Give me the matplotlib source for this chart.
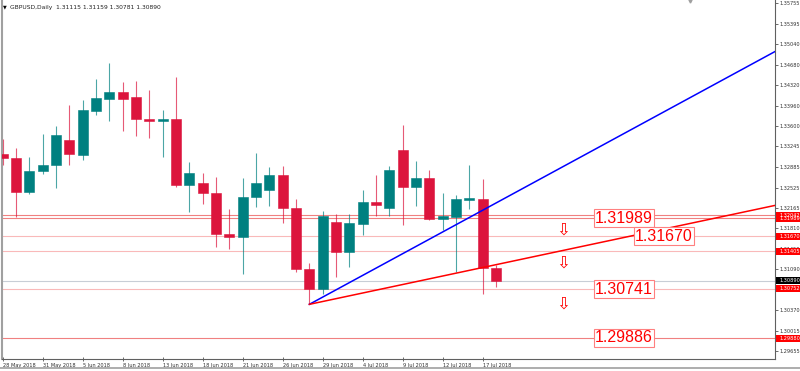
import numpy as np
import pandas as pd
import matplotlib
matplotlib.use("Agg")
import matplotlib.pyplot as plt
from matplotlib.patches import Rectangle
from matplotlib.transforms import blended_transform_factory

# GBPUSD daily candles, 28 May 2018 - 18 Jul 2018
dates = pd.bdate_range("2018-05-28", "2018-07-18")
opens = [1.33113, 1.33038, 1.32441, 1.32810, 1.32920, 1.33359, 1.33096, 1.33873, 1.34083, 1.34196,
         1.34108, 1.33727, 1.33692, 1.33727, 1.32575, 1.32605, 1.32424, 1.31710, 1.31662, 1.32354,
         1.32487, 1.32750, 1.32171, 1.31090, 1.30745, 1.31920, 1.31399, 1.31894, 1.32271, 1.32171,
         1.33175, 1.32540, 1.32692, 1.31978, 1.32008, 1.32312, 1.32324, 1.31115]
highs = [1.33371, 1.33213, 1.33061, 1.33469, 1.33605, 1.33973, 1.34066, 1.34429, 1.34710, 1.34376,
         1.34399, 1.34236, 1.33880, 1.34459, 1.32973, 1.32775, 1.32710, 1.32148, 1.32687, 1.33131,
         1.32885, 1.32903, 1.32324, 1.31206, 1.32119, 1.32066, 1.32061, 1.32482, 1.32745, 1.32903,
         1.33627, 1.32990, 1.32833, 1.32424, 1.32389, 1.32920, 1.32675, 1.31159]
lows = [1.32920, 1.32003, 1.32406, 1.32757, 1.32522, 1.32920, 1.33003, 1.33803, 1.33692, 1.33522,
        1.33429, 1.33399, 1.33061, 1.32540, 1.32090, 1.32241, 1.31487, 1.31447, 1.31008, 1.32189,
        1.32196, 1.31903, 1.31048, 1.30476, 1.30662, 1.30955, 1.31131, 1.31692, 1.32026, 1.32017,
        1.31876, 1.32206, 1.31955, 1.31780, 1.31038, 1.32148, 1.30666, 1.30781]
closes = [1.33038, 1.32441, 1.32810, 1.32915, 1.33452, 1.33119, 1.33880, 1.34096, 1.34201, 1.34078,
          1.33727, 1.33692, 1.33733, 1.32564, 1.32780, 1.32429, 1.31715, 1.31662, 1.32354, 1.32599,
          1.32750, 1.32171, 1.31090, 1.30745, 1.32031, 1.31399, 1.31897, 1.32271, 1.32213, 1.32838,
          1.32540, 1.32692, 1.31976, 1.32026, 1.32324, 1.32324, 1.31113, 1.30890]

price_ticks = [1.35755, 1.35395, 1.35040, 1.34680, 1.34320, 1.33960, 1.33600, 1.33245, 1.32885,
               1.32525, 1.32165, 1.31810, 1.31450, 1.31090, 1.30730, 1.30370, 1.30015, 1.29655]
hidden_ticks = [1.30730]  # covered by the 1.30752 tag

# horizontal levels and their axis tags
levels = [1.32042, 1.31989, 1.31670, 1.31405, 1.30752, 1.29880]
level_strong = [True, True, False, False, False, True]

# trend lines from the 28 Jun low
anchor_idx = 23
blue_slope = 0.00127
red_slope = 0.000497

# level boxes and arrows
box_texts = ["1.31989", "1.31670", "1.30741", "1.29886"]
box_x = [46.6, 49.6, 46.6, 46.6]
box_y = [1.31989, 1.31670, 1.30741, 1.29886]
arrow_x = 42.0
arrow_y = [1.31780, 1.31213, 1.30482]

bull = "#008080"
bear = "#DC143C"

W, H = 800, 371
fig = plt.figure(figsize=(8.0, 3.71), dpi=100)
ax = fig.add_axes([2 / W, 12 / H, 773 / W, 359 / H])

x = np.arange(len(dates))
px = 0.00017544  # price per pixel

# levels (behind candles)
for lv, strong in zip(levels, level_strong):
    ax.axhline(lv, color="#F08080" if strong else "#F9B9B9", lw=0.8, zorder=1)
ax.axhline(closes[-1], color="#C8CED6", lw=0.8, zorder=1)

for i in x:
    o, h, l, c = opens[i], highs[i], lows[i], closes[i]
    col = bull if c >= o else bear
    ax.plot([i, i], [l, h], color=col, lw=0.8, alpha=0.7, zorder=2, solid_capstyle="butt")
    bottom = min(o, c)
    height = max(abs(c - o), px * 1.2)
    ax.add_patch(Rectangle((i - 0.38, bottom), 0.76, height, facecolor=col,
                           edgecolor=col, lw=0.4, zorder=3))

xs = np.array([anchor_idx, 60])
ax.plot(xs, lows[anchor_idx] + blue_slope * (xs - anchor_idx), color="#0000FF", lw=1.1, zorder=4)
ax.plot(xs, lows[anchor_idx] + red_slope * (xs - anchor_idx), color="#FF0000", lw=1.1, zorder=4)

for t, bx, by in zip(box_texts, box_x, box_y):
    ax.text(bx, by, t, color="#FF0000", fontsize=11.5, family="Liberation Sans",
            ha="center", va="center", zorder=6,
            bbox=dict(boxstyle="square,pad=0.08", facecolor="white", edgecolor="#FF8080", lw=0.8))

for ay in arrow_y:
    ax.text(arrow_x, ay, "\u21e9", color="#FF0000", fontsize=12, family="DejaVu Sans",
            ha="center", va="center", zorder=6)

ax.set_xlim(-0.05, 57.92)
ax.set_ylim(1.29517, 1.35815)

# axes styling
ax.spines["top"].set_visible(False)
ax.spines["left"].set_color("#A0A0A0")
ax.spines["left"].set_linewidth(1.5)
ax.spines["right"].set_color("#606060")
ax.spines["right"].set_linewidth(0.8)
ax.spines["bottom"].set_color("#606060")
ax.spines["bottom"].set_linewidth(0.8)

ax.yaxis.tick_right()
ax.set_yticks(price_ticks)
ax.set_yticklabels(["" if p in hidden_ticks else f"{p:.5f}" for p in price_ticks])
ax.tick_params(axis="y", labelsize=3.6, length=2, width=0.5, pad=1, colors="#303030")

tick_idx = list(range(0, len(dates), 3))
ax.set_xticks(tick_idx)
ax.set_xticklabels([f"{dates[i].day} {dates[i].strftime('%b %Y')}" for i in tick_idx], ha="left")
ax.tick_params(axis="x", labelsize=3.6, length=3, width=0.5, pad=1.5, direction="inout", colors="#303030")

# value tags on the price axis
tr = blended_transform_factory(ax.transAxes, ax.transData)
x0 = (776 - 2) / 773
x1 = (800 - 2) / 773
tag_h = 7 * px
tags = list(zip(levels, ["#FF0000"] * len(levels)))
tags = [tags[1], tags[0]] + tags[2:] + [(closes[-1], "#000000")]
for val, col in tags:
    ax.add_patch(Rectangle((x0, val - tag_h / 2), x1 - x0, tag_h, transform=tr,
                           facecolor=col, edgecolor="none", clip_on=False, zorder=7))
    ax.text((779 - 2) / 773, val, f"{val:.5f}", transform=tr, color="white", fontsize=3.6,
            ha="left", va="center", clip_on=False, zorder=8)

# chart header
fig.text(3 / W, 1 - 7 / H, "\u25bc", fontsize=3.5, va="center", ha="left", color="black")
fig.text(10 / W, 1 - 7 / H,
         f"GBPUSD,Daily  {opens[-1]:.5f} {highs[-1]:.5f} {lows[-1]:.5f} {closes[-1]:.5f}",
         fontsize=4.3, va="center", ha="left", color="#202020")
ax.plot([(690 - 2) / 773], [0.996], marker="v", color="#A0A0A0", markersize=2.2,
        transform=ax.transAxes, clip_on=False)

# bottom frame line
fig.add_artist(plt.Line2D([0, 1], [3 / H, 3 / H], color="#A0A0A0", lw=1.2))

fig.savefig("out.png", dpi=100)
